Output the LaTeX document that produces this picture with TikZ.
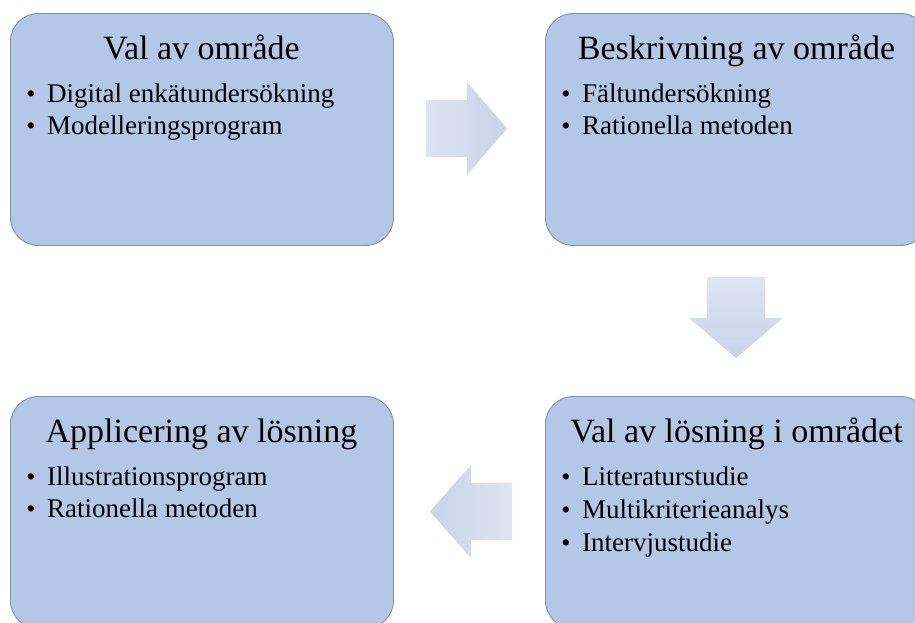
\documentclass[tikz,border=0pt]{standalone}
\usepackage{fontspec}
\setmainfont{Liberation Serif}
\definecolor{boxfill}{HTML}{B4C7E7}
\definecolor{boxline}{HTML}{8091AE}
\definecolor{arrowlight}{HTML}{DFE4F2}
\definecolor{arrowdark}{HTML}{C8D2E9}
\tikzset{
  stagebox/.style={draw=boxline, fill=boxfill, rounded corners=28pt, line width=0.9pt,
    inner sep=0pt, minimum width=383pt, minimum height=232pt, anchor=north west},
  stagetitle/.style={inner sep=0pt, anchor=base, font=\fontsize{34}{34}\selectfont},
  bulletdot/.style={inner sep=0pt, anchor=base, font=\fontsize{26}{26}\selectfont},
  bulletitem/.style={inner sep=0pt, anchor=base west, font=\fontsize{27}{27}\selectfont},
}
\begin{document}
\begin{tikzpicture}[x=1pt,y=-1pt]
\useasboundingbox (0,0) rectangle (915,622);
\clip (0,0) rectangle (915,622);
\fill[white] (0,0) rectangle (915,622);

% stage boxes
\node[stagebox] (s1) at (10,13) {};
\node[stagebox] (s2) at (545,13) {};
\node[stagebox] (s3) at (10,396) {};
\node[stagebox] (s4) at (545,396) {};

% block arrows
\shade[left color=arrowlight, right color=arrowdark]
  (426,100) -- (467,100) -- (467,82) -- (507,128.5) -- (467,175) -- (467,157) -- (426,157) -- cycle;
\shade[top color=arrowlight, bottom color=arrowdark]
  (707,277) -- (765,277) -- (765,318) -- (783,318) -- (736,358) -- (689,318) -- (707,318) -- cycle;
\shade[left color=arrowdark, right color=arrowlight]
  (512,483) -- (471,483) -- (471,465) -- (430,511.5) -- (471,558) -- (471,540) -- (512,540) -- cycle;

% box 1
\node[stagetitle] (t1) at (201.5,59) {Val av område};
\node[bulletdot] (d11) at (31,102) {\textbullet};
\node[bulletitem] (i11) at (47,102) {Digital enkätundersökning};
\node[bulletdot] (d12) at (31,134) {\textbullet};
\node[bulletitem] (i12) at (47,134) {Modelleringsprogram};

% box 2
\node[stagetitle] (t2) at (736.5,59) {Beskrivning av område};
\node[bulletdot] (d21) at (566,102) {\textbullet};
\node[bulletitem] (i21) at (582,102) {Fältundersökning};
\node[bulletdot] (d22) at (566,134) {\textbullet};
\node[bulletitem] (i22) at (582,134) {Rationella metoden};

% box 3
\node[stagetitle] (t3) at (201.5,442) {Applicering av lösning};
\node[bulletdot] (d31) at (31,485) {\textbullet};
\node[bulletitem] (i31) at (47,485) {Illustrationsprogram};
\node[bulletdot] (d32) at (31,517) {\textbullet};
\node[bulletitem] (i32) at (47,517) {Rationella metoden};

% box 4
\node[stagetitle] (t4) at (736.5,442) {Val av lösning i området};
\node[bulletdot] (d41) at (566,485) {\textbullet};
\node[bulletitem] (i41) at (582,485) {Litteraturstudie};
\node[bulletdot] (d42) at (566,518) {\textbullet};
\node[bulletitem] (i42) at (582,518) {Multikriterieanalys};
\node[bulletdot] (d43) at (566,551) {\textbullet};
\node[bulletitem] (i43) at (582,551) {Intervjustudie};
\end{tikzpicture}
\end{document}
